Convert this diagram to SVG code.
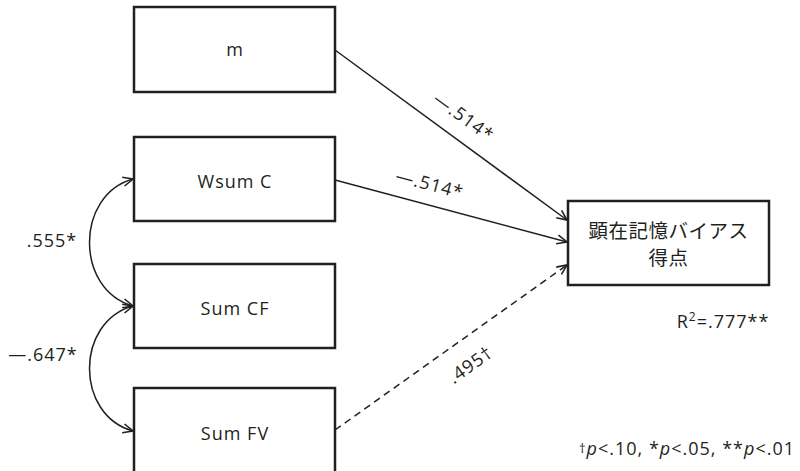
<svg xmlns="http://www.w3.org/2000/svg" width="800" height="471" viewBox="0 0 800 471">
<defs>
<marker id="arr" viewBox="0 0 12 12" refX="11" refY="6" markerWidth="12" markerHeight="12" markerUnits="userSpaceOnUse" orient="auto-start-reverse">
<path d="M1,1.5 L11,6 L1,10.5" fill="none" stroke="#231f20" stroke-width="1.6"/>
</marker>
</defs>
<style>
.box{fill:#fff;stroke:#231f20;stroke-width:2.5}
.lbl{font-family:"Open Sans","Noto Sans",sans-serif;font-size:18px;letter-spacing:1px;fill:#231f20;text-anchor:middle}
.edge{fill:none;stroke:#231f20;stroke-width:1.5}
.el{font-family:"Open Sans","Noto Sans",sans-serif;font-size:18px;letter-spacing:1px;fill:#231f20;text-anchor:middle}
.jp{font-family:"Noto Sans CJK JP","Noto Sans",sans-serif;font-size:19.5px;letter-spacing:0.5px;fill:#231f20;text-anchor:middle}
</style>
<rect width="800" height="471" fill="#fff"/>
<g id="connectors">
<path class="edge" d="M335,50 L567,220" marker-end="url(#arr)"/>
<path class="edge" d="M335,180 L567,242" marker-end="url(#arr)"/>
<path class="edge" d="M335,430 L567,265" stroke-dasharray="7,5" marker-end="url(#arr)"/>
<path class="edge" d="M133,179 C75,195 75,290 133,306" marker-start="url(#arr)" marker-end="url(#arr)"/>
<path class="edge" d="M133,306 C75,322 75,415 133,431" marker-start="url(#arr)" marker-end="url(#arr)"/>
<text class="el" transform="translate(460,122) rotate(36)">—.514*</text>
<text class="el" transform="translate(428,190) rotate(15)">—.514*</text>
<text class="el" transform="translate(474,370) rotate(-35.5)">.495†</text>
<text class="el" x="52" y="247">.555*</text>
<text class="el" x="43" y="361">—.647*</text>
</g>
<g id="node-m"><rect class="box" x="134" y="7" width="201" height="85"/><text class="lbl" x="235" y="56">m</text></g>
<g id="node-wsumc"><rect class="box" x="134" y="137" width="201" height="84"/><text class="lbl" x="235" y="188">Wsum C</text></g>
<g id="node-sumcf"><rect class="box" x="134" y="264" width="201" height="84"/><text class="lbl" x="235" y="315">Sum CF</text></g>
<g id="node-sumfv"><rect class="box" x="134" y="388" width="201" height="86"/><text class="lbl" x="235" y="440">Sum FV</text></g>
<g id="node-target"><rect class="box" x="568" y="201" width="201" height="84"/><text class="jp" x="668.5" y="238">顕在記憶バイアス</text><text class="jp" x="668.5" y="265">得点</text></g>
<g id="notes">
<text class="el" x="723" y="328">R<tspan font-size="12" dy="-7">2</tspan><tspan dy="7">=.777**</tspan></text>
<text class="el" x="687" y="455"><tspan font-size="13" dy="-2">†</tspan><tspan dy="2" font-style="italic">p</tspan>&lt;.10, *<tspan font-style="italic">p</tspan>&lt;.05, **<tspan font-style="italic">p</tspan>&lt;.01</text>
</g>
</svg>
